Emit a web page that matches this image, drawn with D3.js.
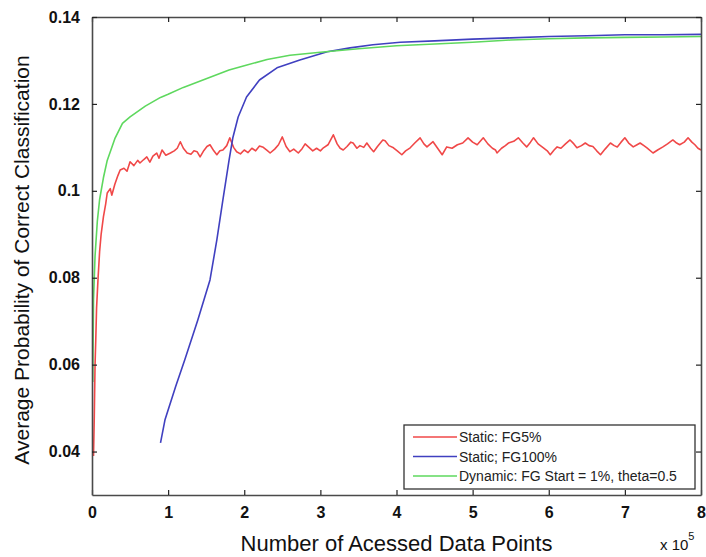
<!DOCTYPE html>
<html>
<head>
<meta charset="utf-8">
<script src="https://cdn.jsdelivr.net/npm/d3@7"></script>
<style>
  html, body { margin: 0; padding: 0; background: #fff; }
  svg { display: block; font-family: "Liberation Sans", Arial, sans-serif; }
</style>
</head>
<body>
<svg id="chart" width="706" height="557"></svg>
<script>
// ---- data (x in units of 10^5 accessed data points) ----
const xTicks = [0, 1, 2, 3, 4, 5, 6, 7, 8];
const yTicks = [0.04, 0.06, 0.08, 0.1, 0.12, 0.14];
const yTickLabels = ["0.04", "0.06", "0.08", "0.1", "0.12", "0.14"];
const seriesNames = ["Static: FG5%", "Static; FG100%", "Dynamic: FG Start = 1%, theta=0.5"];
const seriesColors = ["#f04848", "#4040c0", "#5ed85e"];

const staticFG5 = [
  [0.02,0.039],[0.03,0.048],[0.04,0.060],[0.05,0.066],[0.06,0.073],[0.08,0.080],[0.1,0.086],[0.12,0.090],
  [0.15,0.094],[0.18,0.097],[0.2,0.0995],[0.24,0.1005],[0.26,0.0990],[0.3,0.1015],[0.34,0.1035],[0.37,0.1048],
  [0.42,0.1052],[0.46,0.1045],[0.5,0.1067],[0.55,0.1058],[0.6,0.1070],[0.63,0.1064],[0.68,0.1072],[0.72,0.1078],
  [0.76,0.1066],[0.8,0.1080],[0.85,0.1087],[0.88,0.1075],[0.92,0.1094],[0.97,0.1082],[1.03,0.1087],[1.08,0.1092],
  [1.12,0.1098],[1.16,0.1113],[1.2,0.1098],[1.25,0.1087],[1.3,0.1084],[1.34,0.1092],[1.38,0.109],[1.42,0.1078],
  [1.47,0.1093],[1.51,0.1102],[1.55,0.1106],[1.6,0.1092],[1.64,0.1083],[1.68,0.1092],[1.72,0.1094],[1.77,0.1104],
  [1.81,0.1122],[1.86,0.1100],[1.9,0.109],[1.95,0.1085],[2.0,0.1094],[2.05,0.1088],[2.1,0.1098],[2.15,0.1092],
  [2.2,0.1103],[2.25,0.1100],[2.3,0.1093],[2.34,0.1087],[2.4,0.1096],[2.45,0.1106],[2.5,0.1124],[2.55,0.1102],
  [2.6,0.109],[2.65,0.1096],[2.71,0.1087],[2.76,0.1097],[2.8,0.1108],[2.85,0.1100],[2.9,0.1092],[2.95,0.1098],
  [3.0,0.1092],[3.04,0.1099],[3.1,0.1106],[3.17,0.1129],[3.22,0.1108],[3.26,0.1098],[3.3,0.1094],[3.35,0.1102],
  [3.4,0.1112],[3.43,0.111],[3.48,0.1098],[3.52,0.1104],[3.57,0.1100],[3.61,0.111],[3.66,0.1098],[3.7,0.109],
  [3.75,0.1102],[3.82,0.1117],[3.85,0.1115],[3.9,0.1104],[3.96,0.1099],[4.01,0.1092],[4.07,0.1083],[4.12,0.1092],
  [4.18,0.1099],[4.24,0.1110],[4.31,0.1122],[4.36,0.1108],[4.4,0.1101],[4.48,0.1113],[4.54,0.1098],[4.6,0.1083],
  [4.66,0.1101],[4.73,0.1098],[4.8,0.1106],[4.87,0.1110],[4.94,0.1122],[5.0,0.1112],[5.06,0.1106],[5.1,0.1114],
  [5.14,0.1122],[5.2,0.1108],[5.26,0.1098],[5.3,0.1094],[5.32,0.1087],[5.38,0.1098],[5.43,0.1104],[5.47,0.111],
  [5.54,0.1114],[5.6,0.1122],[5.66,0.1110],[5.71,0.1101],[5.76,0.1112],[5.8,0.1122],[5.86,0.1108],[5.93,0.1099],
  [5.98,0.1092],[6.02,0.1083],[6.07,0.1094],[6.11,0.1101],[6.16,0.1098],[6.22,0.1108],[6.28,0.1117],[6.33,0.1108],
  [6.37,0.1099],[6.43,0.1104],[6.48,0.111],[6.53,0.1104],[6.58,0.1102],[6.63,0.1092],[6.68,0.1083],[6.74,0.1096],
  [6.81,0.111],[6.86,0.1104],[6.9,0.1101],[6.95,0.1112],[7.0,0.1122],[7.05,0.1110],[7.11,0.1101],[7.16,0.1106],
  [7.2,0.111],[7.25,0.1104],[7.29,0.1099],[7.37,0.1087],[7.43,0.1094],[7.5,0.1101],[7.56,0.1108],[7.63,0.1117],
  [7.68,0.1110],[7.72,0.1106],[7.78,0.1112],[7.83,0.1122],[7.88,0.1112],[7.92,0.1106],[7.96,0.1098],[8.0,0.1094]
];

const staticFG100 = [
  [0.9,0.042],[0.96,0.0474],[1.1,0.055],[1.22,0.0612],[1.39,0.0703],[1.55,0.0795],[1.64,0.0887],[1.72,0.098],
  [1.8,0.107],[1.85,0.1122],[1.92,0.117],[2.03,0.1216],[2.2,0.1255],[2.43,0.1283],[2.73,0.1301],[3.09,0.132],
  [3.39,0.1329],[3.69,0.1336],[4.05,0.1342],[4.5,0.1345],[5.0,0.1349],[5.5,0.1352],[6.0,0.1355],[6.5,0.1357],
  [7.0,0.1359],[7.5,0.1359],[8.0,0.136]
];

const dynamicFG = [
  [0.01,0.056],[0.02,0.075],[0.04,0.085],[0.07,0.093],[0.1,0.098],[0.15,0.103],[0.2,0.107],[0.3,0.112],
  [0.4,0.1155],[0.5,0.117],[0.7,0.1195],[0.9,0.1215],[1.0,0.1222],[1.2,0.1238],[1.5,0.1258],[1.8,0.1278],
  [2.0,0.1288],[2.3,0.1302],[2.6,0.1312],[3.0,0.1319],[3.5,0.1327],[4.0,0.1334],[4.5,0.1338],[5.0,0.1342],
  [5.5,0.1347],[6.0,0.135],[6.5,0.1352],[7.0,0.1353],[7.5,0.1354],[8.0,0.1355]
];

const seriesData = [staticFG5, staticFG100, dynamicFG];

// ---- layout ----
const W = 706, H = 557;
const margin = { left: 92, right: 5, top: 17, bottom: 62 };
const svg = d3.select("#chart");
const x = d3.scaleLinear().domain([0, 8]).range([margin.left, W - margin.right]);
const y = d3.scaleLinear().domain([0.03, 0.14]).range([H - margin.bottom, margin.top]);

const axisColor = "#4a4a4a";

svg.append("defs").append("clipPath").attr("id", "plotclip")
  .append("rect")
  .attr("x", x(0)).attr("y", y(0.14))
  .attr("width", x(8) - x(0)).attr("height", y(0.03) - y(0.14));

// series lines
const line = d3.line().x(d => x(d[0])).y(d => y(d[1]));
const gLines = svg.append("g").attr("clip-path", "url(#plotclip)");
seriesData.forEach((s, i) => {
  gLines.append("path")
    .datum(s)
    .attr("fill", "none")
    .attr("stroke", seriesColors[i])
    .attr("stroke-width", 1.6)
    .attr("stroke-linejoin", "round")
    .attr("d", line);
});

// axes (inward ticks on all four sides)
const tickFont = 16;
const bottomAxis = d3.axisBottom(x).tickValues(xTicks).tickSizeInner(-5).tickSizeOuter(0).tickPadding(12).tickFormat(d3.format("d"));
const topAxis = d3.axisTop(x).tickValues(xTicks).tickSizeInner(-5).tickSizeOuter(0).tickFormat("");
const leftAxis = d3.axisLeft(y).tickValues(yTicks).tickSizeInner(-5).tickSizeOuter(0).tickPadding(12)
  .tickFormat((d, i) => yTickLabels[i]);
const rightAxis = d3.axisRight(y).tickValues(yTicks).tickSizeInner(-5).tickSizeOuter(0).tickFormat("");

function styleAxis(g) {
  g.select(".domain").attr("stroke", axisColor).attr("stroke-width", 1.6);
  g.selectAll(".tick line").attr("stroke", "#222").attr("stroke-width", 1.2);
  g.selectAll(".tick text")
    .attr("fill", "#111")
    .style("font-size", tickFont + "px")
    .style("font-weight", "bold")
    .style("font-family", "'Liberation Sans', Arial, sans-serif");
}

svg.append("g").attr("transform", `translate(0,${y(0.03)})`).call(bottomAxis).call(styleAxis);
svg.append("g").attr("transform", `translate(0,${y(0.14)})`).call(topAxis).call(styleAxis);
svg.append("g").attr("transform", `translate(${x(0)},0)`).call(leftAxis).call(styleAxis);
svg.append("g").attr("transform", `translate(${x(8)},0)`).call(rightAxis).call(styleAxis);

// axis titles
svg.append("text")
  .attr("x", (x(0) + x(8)) / 2)
  .attr("y", 551)
  .attr("text-anchor", "middle")
  .attr("fill", "#111")
  .style("font-size", "22px")
  .text("Number of Acessed Data Points");

svg.append("text")
  .attr("transform", `translate(29,${(y(0.03) + y(0.14)) / 2 + 4}) rotate(-90)`)
  .attr("text-anchor", "middle")
  .attr("fill", "#111")
  .style("font-size", "21px")
  .text("Average Probability of Correct Classification");

// exponent label
const expo = svg.append("text")
  .attr("x", 660)
  .attr("y", 550)
  .attr("fill", "#111")
  .style("font-size", "15px");
expo.append("tspan").text("x 10");
expo.append("tspan").attr("dy", -10).style("font-size", "11px").text("5");

// legend
const legend = svg.append("g");
const lgX = 404, lgY = 425, lgW = 291, lgH = 64;
legend.append("rect")
  .attr("x", lgX).attr("y", lgY).attr("width", lgW).attr("height", lgH)
  .attr("fill", "#fff").attr("stroke", "#333").attr("stroke-width", 1.3);
seriesNames.forEach((name, i) => {
  const ly = lgY + 12 + i * 19.5;
  legend.append("line")
    .attr("x1", lgX + 9).attr("x2", lgX + 53)
    .attr("y1", ly).attr("y2", ly)
    .attr("stroke", seriesColors[i]).attr("stroke-width", 1.6);
  legend.append("text")
    .attr("x", lgX + 55).attr("y", ly + 5)
    .attr("fill", "#222")
    .style("font-size", "14px")
    .text(name);
});
</script>
</body>
</html>
